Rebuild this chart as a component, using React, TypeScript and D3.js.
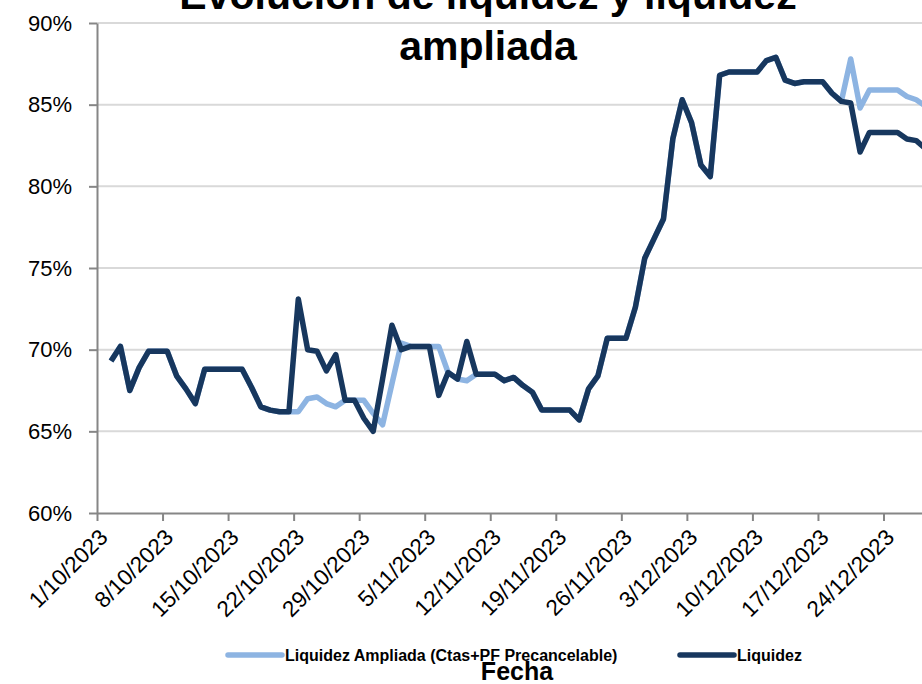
import * as React from "react";
import * as d3 from "d3";

// first daily value is 2/10/2023, one value per day
const firstDay = new Date(2023, 9, 2);
const axisStart = new Date(2023, 9, 1);

const liquidez = [
  69.3, 70.2, 67.5, 68.9, 69.9, 69.9, 69.9, 68.4, 67.6, 66.7,
  68.8, 68.8, 68.8, 68.8, 68.8, 67.7, 66.5, 66.3, 66.2, 66.2,
  73.1, 70.0, 69.9, 68.7, 69.7, 66.9, 66.9, 65.8, 65.0, 68.2,
  71.5, 70.0, 70.2, 70.2, 70.2, 67.2, 68.6, 68.2, 70.5, 68.5,
  68.5, 68.5, 68.1, 68.3, 67.8, 67.4, 66.3, 66.3, 66.3, 66.3,
  65.7, 67.6, 68.4, 70.7, 70.7, 70.7, 72.6, 75.6, 76.8, 78.0,
  82.9, 85.3, 83.9, 81.3, 80.6, 86.8, 87.0, 87.0, 87.0, 87.0,
  87.7, 87.9, 86.5, 86.3, 86.4, 86.4, 86.4, 85.7, 85.2, 85.1,
  82.1, 83.3, 83.3, 83.3, 83.3, 82.9, 82.8, 82.3,
];

const liquidezAmpliada = [
  69.3, 70.2, 67.5, 68.9, 69.9, 69.9, 69.9, 68.4, 67.6, 66.7,
  68.8, 68.8, 68.8, 68.8, 68.8, 67.7, 66.5, 66.3, 66.2, 66.2,
  66.2, 67.0, 67.1, 66.7, 66.5, 66.9, 66.9, 66.9, 66.1, 65.4,
  67.9, 70.4, 70.2, 70.2, 70.2, 70.2, 68.6, 68.2, 68.1, 68.5,
  68.5, 68.5, 68.1, 68.3, 67.8, 67.4, 66.3, 66.3, 66.3, 66.3,
  65.7, 67.6, 68.4, 70.7, 70.7, 70.7, 72.6, 75.6, 76.8, 78.0,
  82.9, 85.3, 83.9, 81.3, 80.6, 86.8, 87.0, 87.0, 87.0, 87.0,
  87.7, 87.9, 86.5, 86.3, 86.4, 86.4, 86.4, 85.7, 85.2, 87.8,
  84.8, 85.9, 85.9, 85.9, 85.9, 85.5, 85.3, 84.9,
];

const yTicks = [60, 65, 70, 75, 80, 85, 90];
const seriesNames = ["Liquidez Ampliada (Ctas+PF Precancelable)", "Liquidez"];
const titleLines = ["Evolución de liquidez y liquidez", "ampliada"];
const xTitle = "Fecha";

const darkBlue = "#17375E";
const lightBlue = "#8DB4E2";
const font = "'Liberation Sans', Arial, sans-serif";

function drawChart(svgRef) {
  const width = 922;
  const height = 684;
  const left = 97;
  const top = 23;
  const bottom = 513;
  const dayWidth = 9.363;
  const spanDays = 92;

  const x = d3
    .scaleTime()
    .domain([axisStart, d3.timeDay.offset(axisStart, spanDays)])
    .range([left, left + spanDays * dayWidth]);
  const y = d3.scaleLinear().domain([60, 90]).range([bottom, top]);

  const svg = d3.select(svgRef.current).attr("width", width).attr("height", height);
  svg.selectAll("*").remove();

  svg.append("rect").attr("width", width).attr("height", height).attr("fill", "#fff");

  // gridlines
  svg
    .append("g")
    .selectAll("line")
    .data(yTicks.filter((t) => t > 60))
    .enter()
    .append("line")
    .attr("x1", left)
    .attr("x2", width)
    .attr("y1", (d) => y(d))
    .attr("y2", (d) => y(d))
    .attr("stroke", "#D9D9D9")
    .attr("stroke-width", 2);

  // y axis
  const yAxis = svg
    .append("g")
    .attr("transform", `translate(${left},0)`)
    .call(
      d3
        .axisLeft(y)
        .tickValues(yTicks)
        .tickSize(8)
        .tickSizeOuter(0)
        .tickFormat((d) => `${d}%`)
    );
  yAxis.select(".domain").attr("stroke", "#868686").attr("stroke-width", 2);
  yAxis.selectAll(".tick line").attr("stroke", "#868686").attr("stroke-width", 2);
  yAxis
    .selectAll(".tick text")
    .attr("x", -25)
    .attr("font-family", font)
    .attr("font-size", 22)
    .attr("fill", "#000");

  // x axis
  const weekTicks = d3.range(0, 13).map((k) => d3.timeDay.offset(axisStart, k * 7));
  const xAxis = svg
    .append("g")
    .attr("transform", `translate(0,${bottom})`)
    .call(
      d3
        .axisBottom(x)
        .tickValues(weekTicks)
        .tickSize(8)
        .tickSizeOuter(0)
        .tickFormat(d3.timeFormat("%-d/%-m/%Y"))
    );
  xAxis.select(".domain").attr("stroke", "#868686").attr("stroke-width", 2);
  xAxis.selectAll(".tick line").attr("stroke", "#868686").attr("stroke-width", 2);
  xAxis
    .selectAll(".tick text")
    .attr("x", 0)
    .attr("y", 0)
    .attr("dy", "0.35em")
    .attr("transform", "translate(6,20) rotate(-45)")
    .attr("text-anchor", "end")
    .attr("font-family", font)
    .attr("font-size", 22.5)
    .attr("fill", "#000");

  // lines, each value sits in the middle of its day
  const line = d3
    .line()
    .x((d, i) => x(d3.timeHour.offset(d3.timeDay.offset(firstDay, i), 12)))
    .y((d) => y(d));

  svg
    .append("path")
    .datum(liquidezAmpliada)
    .attr("d", line)
    .attr("fill", "none")
    .attr("stroke", lightBlue)
    .attr("stroke-width", 5.5)
    .attr("stroke-linejoin", "round");

  svg
    .append("path")
    .datum(liquidez)
    .attr("d", line)
    .attr("fill", "none")
    .attr("stroke", darkBlue)
    .attr("stroke-width", 5.5)
    .attr("stroke-linejoin", "round");

  // title, first line partly above the picture as in the original
  svg
    .selectAll(".title")
    .data(titleLines)
    .enter()
    .append("text")
    .classed("title", true)
    .attr("x", 488)
    .attr("y", (d, i) => (i === 0 ? 9 : 60))
    .attr("text-anchor", "middle")
    .attr("font-family", font)
    .attr("font-weight", "bold")
    .attr("font-size", 41)
    .attr("fill", "#000")
    .text((d) => d);

  // legend
  const legendItems = [
    { name: seriesNames[0], color: lightBlue, x0: 228 },
    { name: seriesNames[1], color: darkBlue, x0: 680 },
  ];
  const legend = svg.append("g");
  legend
    .selectAll("line")
    .data(legendItems)
    .enter()
    .append("line")
    .attr("x1", (d) => d.x0)
    .attr("x2", (d) => d.x0 + 54)
    .attr("y1", 655)
    .attr("y2", 655)
    .attr("stroke", (d) => d.color)
    .attr("stroke-width", 5.5)
    .attr("stroke-linecap", "round");
  legend
    .selectAll("text")
    .data(legendItems)
    .enter()
    .append("text")
    .attr("x", (d) => d.x0 + 57)
    .attr("y", 661)
    .attr("font-family", font)
    .attr("font-weight", "bold")
    .attr("font-size", 16)
    .attr("fill", "#000")
    .text((d) => d.name);

  svg
    .append("text")
    .attr("x", 517)
    .attr("y", 680)
    .attr("text-anchor", "middle")
    .attr("font-family", font)
    .attr("font-weight", "bold")
    .attr("font-size", 25)
    .attr("fill", "#000")
    .text(xTitle);
}

const App = () => {
  const svgRef = React.useRef(null);

  React.useEffect(() => {
    drawChart(svgRef);
  }, [svgRef]);

  return (
    <div style={{ position: "absolute", left: 0, top: 0 }}>
      <svg ref={svgRef} style={{ display: "block", overflow: "hidden" }} />
    </div>
  );
};

export default App;
